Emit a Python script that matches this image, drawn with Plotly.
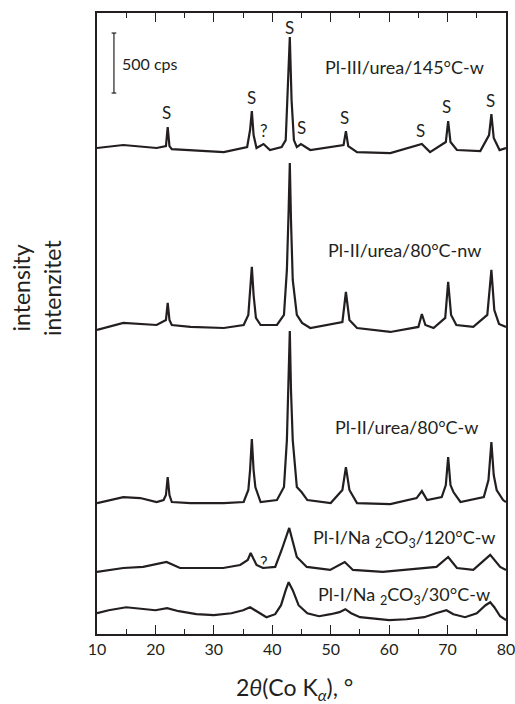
import plotly.graph_objects as go

# 2theta positions and intensities (cps, relative to each pattern's own baseline)
x_145w = [10, 14.5, 20.2, 21.8, 22.1, 22.4, 22.8, 26, 31.7, 35.7, 36.2, 36.5, 36.8, 37.3, 38.5, 39.6, 41.6,
          42.3, 42.6, 43.0, 43.3, 43.7, 44.2, 44.9, 46.5, 52.2, 52.6, 53.0, 54.5, 60.2, 65.6, 67, 69.7,
          70.1, 70.5, 71.6, 75.6, 77.1, 77.5, 77.9, 78.9, 80]
y_145w = [42, 67, 42, 58, 217, 58, 33, 25, 8, 50, 192, 350, 150, 42, 75, 25, 50,
          108, 442, 967, 442, 108, 50, 75, 25, 67, 183, 58, 8, 0, 75, 8, 92,
          267, 92, 25, 17, 150, 325, 125, 25, 42]

x_80nw = [10, 14.5, 20.2, 21.8, 22.1, 22.4, 22.8, 26, 31.7, 35.1, 35.9, 36.2, 36.5, 36.8, 37.2, 38, 40.8,
          42.0, 42.5, 42.8, 43.0, 43.2, 43.5, 44.2, 45.1, 46.5, 52.0, 52.6, 53.2, 54.5, 60.2, 65.0, 65.6,
          66.2, 67.6, 69.6, 70.1, 70.6, 71.5, 74.4, 76.8, 77.5, 78.0, 78.8, 80]
y_80nw = [17, 75, 58, 100, 242, 100, 58, 42, 33, 58, 142, 308, 542, 308, 117, 58, 58,
          142, 517, 1017, 1408, 933, 433, 142, 75, 33, 83, 333, 100, 33, 0, 42, 150,
          58, 33, 117, 417, 142, 58, 42, 142, 517, 183, 67, 42]

x_80w = [10, 14.5, 17.4, 20.2, 21.4, 21.8, 22.1, 22.4, 22.8, 26, 31.7, 35.1, 35.9, 36.2, 36.5, 36.8, 37.1,
         38, 40.8, 42.0, 42.5, 42.8, 43.0, 43.2, 43.5, 44.2, 45.0, 46.0, 50.0, 52.0, 52.6, 53.2, 54.5,
         60.2, 64.7, 65.6, 66.5, 69.0, 69.7, 70.1, 70.5, 71.0, 72.2, 76.2, 77.0, 77.5, 77.9, 78.4, 79.5, 80]
y_80w = [8, 58, 50, 17, 33, 75, 225, 75, 17, 8, 8, 17, 117, 283, 542, 283, 142,
         17, 33, 142, 533, 1033, 1442, 950, 533, 142, 100, 33, 8, 117, 308, 117, 8,
         0, 50, 108, 33, 58, 158, 392, 158, 100, 17, 58, 200, 517, 242, 117, 33, 17]

x_120w = [10, 14.5, 17.9, 21.9, 24.2, 27.6, 31.6, 34.5, 35.8, 36.3, 36.8, 37.3, 38.4, 40.5, 41.6, 42.5,
          42.9, 43.3, 44.2, 45.9, 49.9, 52.4, 53.8, 58.9, 65.3, 68.1, 70.1, 71.6, 74.4, 77.3, 79, 80]
y_120w = [0, 33, 42, 83, 33, 33, 33, 58, 100, 158, 100, 58, 33, 42, 183, 325,
          367, 292, 125, 42, 17, 83, 17, 0, 33, 42, 125, 33, 17, 142, 42, 17]

x_30w = [10, 12, 15, 18, 20, 22, 24, 27, 30, 33, 35, 36.2, 37.5, 39, 40.5, 41.5, 42.3, 42.8, 43.5, 44.5,
         46, 48, 50, 51.5, 52.5, 53.5, 55, 58, 60, 63, 66, 68, 69.8, 71, 73, 75, 76.5, 77.3, 78, 79, 80]
y_30w = [58, 83, 108, 92, 83, 100, 75, 50, 42, 58, 83, 108, 67, 25, 50, 125, 250, 317, 250, 125,
         58, 33, 50, 67, 92, 58, 25, 8, 0, 8, 25, 58, 83, 50, 25, 58, 125, 150, 108, 33, 0]

# stacking offsets (cps)
offsets = [4008, 2517, 1083, 517, 115]
sample_names = ["Pl-III/urea/145°C-w", "Pl-II/urea/80°C-nw", "Pl-II/urea/80°C-w",
                "Pl-I/Na <sub>2</sub>CO<sub>3</sub>/120°C-w", "Pl-I/Na <sub>2</sub>CO<sub>3</sub>/30°C-w"]
xs = [x_145w, x_80nw, x_80w, x_120w, x_30w]
ys = [y_145w, y_80nw, y_80w, y_120w, y_30w]

x_ticks = [10, 20, 30, 40, 50, 60, 70, 80]

INK = "#231f20"
FONT = "Lato"

fig = go.Figure()
for xv, yv, off, nm in zip(xs, ys, offsets, sample_names):
    fig.add_trace(go.Scatter(x=xv, y=[v + off for v in yv], mode="lines",
                             line=dict(color=INK, width=2.2), name=nm, showlegend=False))

# scale bar 500 cps
fig.add_trace(go.Scatter(x=[12.5, 13.3, None, 12.9, 12.9, None, 12.5, 13.3],
                         y=[4508, 4508, None, 4508, 5008, None, 5008, 5008],
                         mode="lines", line=dict(color=INK, width=1.2), showlegend=False))

ann = []
def add(text, x, y, size, xref="x", yref="y", angle=0, xanchor="center", yanchor="middle"):
    ann.append(dict(text=text, x=x, y=y, xref=xref, yref=yref, showarrow=False,
                    font=dict(family=FONT, size=size, color=INK), textangle=angle,
                    xanchor=xanchor, yanchor=yanchor))

add("500 cps", 13.9, 4758, 16, xanchor="left")
label_pos = [(62.6, 4725), (62.6, 3200), (62.9, 1725), (62.6, 800), (62.6, 317)]
for nm, (lx, ly) in zip(sample_names, label_pos):
    add(nm, lx, ly, 18)

s_marks = [("S", 21.9, 4350), ("S", 36.5, 4467), ("?", 38.6, 4192), ("S", 42.9, 5058),
           ("S", 45.0, 4225), ("S", 52.4, 4308), ("S", 65.4, 4192), ("S", 69.9, 4392),
           ("S", 77.4, 4450), ("?", 38.6, 600)]
for t, sx, sy in s_marks:
    add(t, sx, sy, 17)

add("2<i>θ</i>(Co K<sub><i>α</i></sub>), °", 0.484, -0.087, 23, xref="paper", yref="paper")
add("intensity", -0.185, 0.557, 23, xref="paper", yref="paper", angle=-90)
add("intenzitet", -0.110, 0.557, 23, xref="paper", yref="paper", angle=-90)

fig.update_layout(
    width=515, height=704,
    margin=dict(l=97, r=9, t=13, b=70),
    paper_bgcolor="white", plot_bgcolor="white",
    annotations=ann,
    xaxis=dict(range=[10, 80], tickvals=x_ticks, ticks="inside", ticklen=9, tickwidth=1.2,
               tickcolor=INK, showline=True, linecolor=INK, linewidth=1.5, mirror="ticks",
               showgrid=False, zeroline=False, automargin=False, ticklabeloverflow="allow",
               tickfont=dict(family=FONT, size=16, color=INK),
               minor=dict(ticks="inside", dtick=5, tick0=10, ticklen=5, tickwidth=1.2,
                          tickcolor=INK, showgrid=False)),
    yaxis=dict(range=[0, 5175], showticklabels=False, ticks="", showline=True, linecolor=INK,
               linewidth=1.5, mirror=True, showgrid=False, zeroline=False, automargin=False),
)

fig.write_html("out.html", config={"displayModeBar": False},
               post_script="document.body.style.margin='0';document.body.style.overflow='hidden';")
